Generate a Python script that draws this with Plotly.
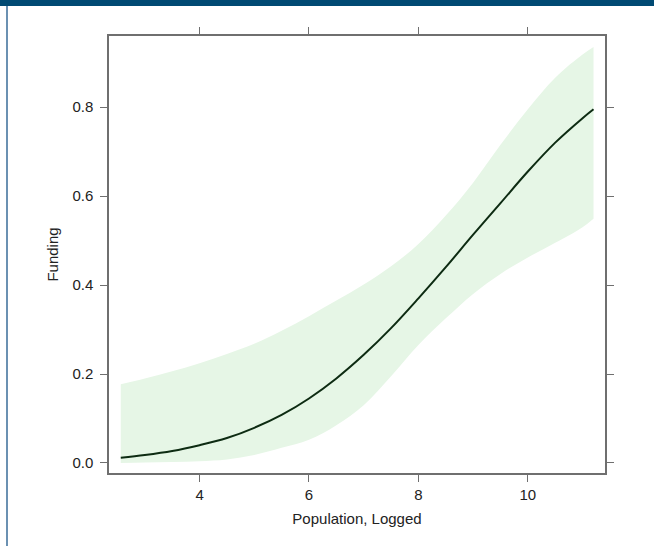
import plotly.graph_objects as go

population_logged = [2.56, 3.0, 3.5, 4.0, 4.5, 5.0, 5.5, 6.0, 6.5, 7.0, 7.5, 8.0,
                     8.5, 9.0, 9.5, 10.0, 10.5, 11.0, 11.2]
funding_fit = [0.012, 0.018, 0.027, 0.040, 0.056, 0.079, 0.108, 0.145, 0.190, 0.243,
               0.303, 0.370, 0.440, 0.513, 0.584, 0.655, 0.720, 0.775, 0.795]
funding_upper = [0.177, 0.190, 0.206, 0.224, 0.245, 0.268, 0.297, 0.330, 0.365, 0.401,
                 0.442, 0.492, 0.556, 0.630, 0.715, 0.795, 0.866, 0.918, 0.935]
funding_lower = [0.000, 0.001, 0.002, 0.004, 0.008, 0.018, 0.034, 0.052, 0.085, 0.130,
                 0.195, 0.265, 0.325, 0.380, 0.425, 0.462, 0.495, 0.530, 0.549]
x_ticks = [4, 6, 8, 10]
y_ticks = [0.0, 0.2, 0.4, 0.6, 0.8]
y_tick_labels = ["0.0", "0.2", "0.4", "0.6", "0.8"]

W, H = 654, 546
ML, MR, MT, MB = 109, 49, 36, 73
PW, PH = W - ML - MR, H - MT - MB

FILL = "#e6f6e6"
LINE = "#0d2b12"
AXIS = "#6f6f6f"
TEXT = "#222222"
FONT = "Liberation Sans, Arial, sans-serif"

fig = go.Figure()
fig.add_trace(go.Scatter(x=population_logged, y=funding_lower, mode="lines",
                         line=dict(width=0, shape="spline", color=FILL),
                         hoverinfo="skip", showlegend=False))
fig.add_trace(go.Scatter(x=population_logged, y=funding_upper, mode="lines",
                         line=dict(width=0, shape="spline", color=FILL),
                         fill="tonexty", fillcolor=FILL,
                         hoverinfo="skip", showlegend=False))
fig.add_trace(go.Scatter(x=population_logged, y=funding_fit, mode="lines",
                         line=dict(width=2, shape="spline", color=LINE),
                         showlegend=False))

def px_to_paper_x(px):
    return (px - ML) / PW

def py_to_paper_y(py):
    return (H - MB - py) / PH

# dark header bar
fig.add_shape(type="rect", xref="paper", yref="paper",
              x0=px_to_paper_x(0), x1=px_to_paper_x(W),
              y0=py_to_paper_y(6), y1=py_to_paper_y(0),
              fillcolor="#004a73", line=dict(width=0), layer="above")
# thin left border line
fig.add_shape(type="line", xref="paper", yref="paper",
              x0=px_to_paper_x(7), x1=px_to_paper_x(7),
              y0=py_to_paper_y(H), y1=py_to_paper_y(6),
              line=dict(color="#3a6d99", width=1.5))

axis_common = dict(showgrid=False, zeroline=False, showline=True, linecolor=AXIS,
                   linewidth=1.5, mirror="allticks", ticks="outside", ticklen=7,
                   tickwidth=1, tickcolor=AXIS,
                   tickfont=dict(family=FONT, size=15, color=TEXT))

fig.update_xaxes(range=[2.345, 11.41], tickvals=x_ticks,
                 title=dict(text="Population, Logged", standoff=12,
                            font=dict(family=FONT, size=15, color=TEXT)),
                 **axis_common)
fig.update_yaxes(range=[-0.0225, 0.9596], tickvals=y_ticks, ticktext=y_tick_labels,
                 ticklabelstandoff=4,
                 title=dict(text="Funding", standoff=10,
                            font=dict(family=FONT, size=15, color=TEXT)),
                 **axis_common)

fig.update_layout(width=W, height=H, margin=dict(l=ML, r=MR, t=MT, b=MB),
                  paper_bgcolor="white", plot_bgcolor="white")

fig.write_html("out.html", config={"displayModeBar": False},
               post_script="document.body.style.margin='0';document.body.style.overflow='hidden';")
